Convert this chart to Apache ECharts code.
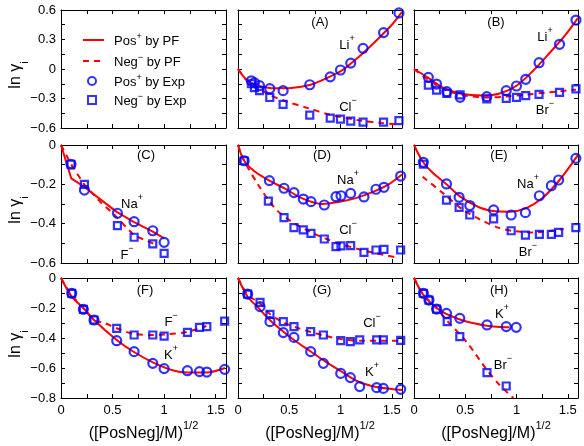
<!DOCTYPE html>
<html>
<head>
<meta charset="utf-8">
<script src="https://cdn.jsdelivr.net/npm/echarts@6/dist/echarts.min.js"></script>
<style>
html,body{margin:0;padding:0;background:#fff;}
#c{width:584px;height:446px;}
</style>
</head>
<body>
<div id="c"></div>
<script>
// ---------------- DATA ----------------
// tick labels
const xLabelValues = [0, 0.5, 1, 1.5];
const xLabelTexts = ['0', '0.5', '1', '1.5'];
const yLabelValuesRow1 = [0.6, 0.3, 0, -0.3, -0.6];
const yLabelTextsRow1 = ['0.6', '0.3', '0', '\u22120.3', '\u22120.6'];
const yLabelValuesRow2 = [0, -0.2, -0.4, -0.6];
const yLabelTextsRow2 = ['0', '\u22120.2', '\u22120.4', '\u22120.6'];
const yLabelValuesRow3 = [0, -0.2, -0.4, -0.6, -0.8];
const yLabelTextsRow3 = ['0', '\u22120.2', '\u22120.4', '\u22120.6', '\u22120.8'];

// Panel A (LiCl)
const A_posExp = [[0.13,-0.12],[0.16,-0.14],[0.21,-0.17],[0.31,-0.20],[0.44,-0.22],[0.70,-0.16],[0.90,-0.08],[1.00,-0.01],[1.10,0.06],[1.22,0.21],[1.42,0.37],[1.57,0.57]];
const A_negExp = [[0.13,-0.15],[0.16,-0.19],[0.21,-0.22],[0.31,-0.29],[0.44,-0.36],[0.70,-0.47],[0.90,-0.50],[1.00,-0.51],[1.10,-0.53],[1.22,-0.54],[1.42,-0.54],[1.57,-0.525]];
const A_posPF = [[0,0],[0.07,-0.095],[0.13,-0.14],[0.2,-0.17],[0.36,-0.197],[0.52,-0.193],[0.70,-0.163],[0.85,-0.10],[1.02,-0.01],[1.18,0.125],[1.35,0.29],[1.51,0.46],[1.6,0.58]];
const A_negPF = [[0,0],[0.07,-0.1],[0.13,-0.15],[0.3,-0.258],[0.46,-0.326],[0.69,-0.40],[0.88,-0.46],[1.17,-0.52],[1.40,-0.55],[1.58,-0.566]];

// Panel B (LiBr)
const B_posExp = [[0.14,-0.085],[0.22,-0.153],[0.32,-0.231],[0.45,-0.288],[0.71,-0.281],[0.90,-0.22],[1.00,-0.173],[1.09,-0.105],[1.22,0.064],[1.42,0.251],[1.58,0.498]];
const B_negExp = [[0.14,-0.163],[0.22,-0.214],[0.32,-0.247],[0.45,-0.264],[0.71,-0.305],[0.90,-0.298],[1.00,-0.288],[1.09,-0.271],[1.22,-0.258],[1.42,-0.237],[1.58,-0.203]];
const B_posPF = [[0,0],[0.14,-0.09],[0.285,-0.19],[0.45,-0.25],[0.67,-0.27],[0.835,-0.25],[1.0,-0.17],[1.16,-0.02],[1.32,0.16],[1.48,0.35],[1.6,0.52]];
const B_negPF = [[0,0],[0.14,-0.11],[0.285,-0.2],[0.45,-0.26],[0.71,-0.29],[0.90,-0.28],[1.1,-0.26],[1.29,-0.24],[1.58,-0.21]];

// Panel C (NaF)
const C_posExp = [[0.097,-0.098],[0.227,-0.229],[0.547,-0.347],[0.709,-0.39],[0.89,-0.436],[1.0,-0.495]];
const C_negExp = [[0.097,-0.098],[0.227,-0.2],[0.547,-0.41],[0.709,-0.469],[0.89,-0.503],[1.0,-0.551]];
const C_posPF = [[0,0],[0.1,-0.17],[0.23,-0.215],[0.54,-0.34],[0.70,-0.39],[0.89,-0.44],[1.0,-0.475]];
const C_negPF = [[0,0],[0.1,-0.1],[0.23,-0.205],[0.4,-0.3],[0.5,-0.345],[0.58,-0.39],[0.71,-0.46],[0.89,-0.5],[0.93,-0.51]];

// Panel D (NaCl)
const D_posExp = [[0.06,-0.08],[0.306,-0.181],[0.449,-0.22],[0.546,-0.242],[0.637,-0.275],[0.712,-0.288],[0.842,-0.305],[0.956,-0.263],[1.005,-0.258],[1.099,-0.246],[1.229,-0.264],[1.346,-0.225],[1.424,-0.215],[1.587,-0.158]];
const D_negExp = [[0.06,-0.08],[0.296,-0.285],[0.449,-0.369],[0.546,-0.42],[0.637,-0.432],[0.712,-0.449],[0.842,-0.478],[0.956,-0.517],[1.005,-0.513],[1.099,-0.512],[1.229,-0.546],[1.346,-0.534],[1.424,-0.531],[1.587,-0.534]];
const D_posPF = [[0,0],[0.06,-0.08],[0.166,-0.136],[0.306,-0.181],[0.459,-0.222],[0.62,-0.27],[0.82,-0.30],[0.98,-0.29],[1.15,-0.27],[1.31,-0.24],[1.47,-0.2],[1.6,-0.15]];
const D_negPF = [[0,0],[0.06,-0.08],[0.198,-0.203],[0.361,-0.322],[0.524,-0.39],[0.687,-0.437],[0.85,-0.475],[1.01,-0.505],[1.18,-0.53],[1.34,-0.55],[1.56,-0.573]];

// Panel E (NaBr)
const E_posExp = [[0.091,-0.088],[0.317,-0.198],[0.44,-0.266],[0.544,-0.308],[0.777,-0.33],[0.948,-0.356],[1.087,-0.344],[1.223,-0.258],[1.34,-0.207],[1.411,-0.178],[1.579,-0.068]];
const E_negExp = [[0.091,-0.098],[0.317,-0.28],[0.44,-0.317],[0.544,-0.356],[0.777,-0.376],[0.948,-0.436],[1.087,-0.458],[1.223,-0.454],[1.34,-0.454],[1.411,-0.444],[1.579,-0.42]];
const E_posPF = [[0,0],[0.09,-0.088],[0.188,-0.144],[0.317,-0.2],[0.446,-0.26],[0.608,-0.31],[0.77,-0.336],[0.93,-0.339],[1.09,-0.322],[1.25,-0.271],[1.42,-0.178],[1.6,-0.05]];
const E_negPF = [[0.084,-0.161],[0.285,-0.246],[0.479,-0.33],[0.641,-0.378],[0.819,-0.42],[0.964,-0.437],[1.16,-0.445],[1.32,-0.437],[1.46,-0.427]];

// Panel F (KF)
const F_posExp = [[0.104,-0.102],[0.217,-0.209],[0.32,-0.28],[0.54,-0.418],[0.709,-0.491],[0.89,-0.569],[1.0,-0.604],[1.226,-0.618],[1.343,-0.624],[1.414,-0.627],[1.587,-0.609]];
const F_negExp = [[0.104,-0.102],[0.217,-0.209],[0.32,-0.28],[0.54,-0.336],[0.709,-0.38],[0.89,-0.38],[1.0,-0.387],[1.226,-0.362],[1.343,-0.329],[1.414,-0.324],[1.587,-0.287]];
const F_posPF = [[0,0],[0.104,-0.124],[0.217,-0.2],[0.32,-0.28],[0.54,-0.413],[0.70,-0.49],[0.89,-0.562],[1.09,-0.617],[1.22,-0.63],[1.41,-0.63],[1.59,-0.6]];
const F_negPF = [[0,0],[0.104,-0.115],[0.217,-0.2],[0.32,-0.28],[0.42,-0.30],[0.54,-0.335],[0.70,-0.372],[0.89,-0.38],[1.0,-0.377],[1.22,-0.36],[1.41,-0.32]];

// Panel G (KCl)
const G_posExp = [[0.094,-0.107],[0.215,-0.191],[0.312,-0.291],[0.442,-0.364],[0.546,-0.396],[0.709,-0.491],[0.833,-0.569],[1.002,-0.636],[1.096,-0.664],[1.187,-0.724],[1.353,-0.731],[1.418,-0.736],[1.587,-0.742]];
const G_negExp = [[0.094,-0.107],[0.215,-0.162],[0.312,-0.242],[0.442,-0.291],[0.546,-0.324],[0.709,-0.358],[0.833,-0.38],[1.002,-0.418],[1.096,-0.424],[1.187,-0.413],[1.353,-0.413],[1.418,-0.413],[1.587,-0.416]];
const G_posPF = [[0,0],[0.094,-0.125],[0.2,-0.2],[0.31,-0.28],[0.44,-0.357],[0.56,-0.42],[0.71,-0.49],[0.85,-0.556],[1.0,-0.62],[1.17,-0.69],[1.35,-0.727],[1.5,-0.74],[1.6,-0.747]];
const G_negPF = [[0,0],[0.094,-0.11],[0.215,-0.17],[0.31,-0.24],[0.44,-0.295],[0.59,-0.335],[0.72,-0.362],[0.85,-0.385],[1.0,-0.407],[1.2,-0.418],[1.4,-0.418],[1.6,-0.418]];

// Panel H (KBr)
const H_posExp = [[0.091,-0.102],[0.146,-0.147],[0.22,-0.207],[0.317,-0.236],[0.447,-0.269],[0.712,-0.313],[0.9,-0.324],[0.997,-0.329]];
const H_negExp = [[0.091,-0.102],[0.146,-0.147],[0.22,-0.207],[0.324,-0.291],[0.447,-0.391],[0.712,-0.631],[0.9,-0.72]];
const H_posPF = [[0,0],[0.091,-0.113],[0.22,-0.2],[0.35,-0.25],[0.51,-0.29],[0.71,-0.318],[0.84,-0.327],[0.93,-0.328]];
const H_negPF = [[0,0],[0.091,-0.11],[0.22,-0.2],[0.317,-0.28],[0.51,-0.424],[0.71,-0.611],[0.835,-0.713],[0.97,-0.80]];

// ---------------- LAYOUT ----------------
const FONT = '"Liberation Sans", Arial, Helvetica, sans-serif';
const RED = '#ff0000', BLUE = '#0000ff', CLEAR = 'rgba(255,255,255,0)';
const colLeft = [61, 238, 414], colWidth = [165, 164, 164];
const rowTop = [10, 145, 278], rowHeight = [118, 118, 120];
const yRange = [[-0.6, 0.6, 0.15], [-0.6, 0, 0.1], [-0.8, 0, 0.1]];
const yLabVals = [yLabelValuesRow1, yLabelValuesRow2, yLabelValuesRow3];
const yLabTxts = [yLabelTextsRow1, yLabelTextsRow2, yLabelTextsRow3];

// panels: index = row*3+col ; index 0 = legend panel
const panels = [
  null,
  {letter:'(A)', pos:A_posExp, neg:A_negExp, posPF:A_posPF, negPF:A_negPF, lp:[[320,22],[347,43,'+','Li'],[348,105,'-','Cl']]},
  {letter:'(B)', pos:B_posExp, neg:B_negExp, posPF:B_posPF, negPF:B_negPF, lp:[[496,22],[545,35,'+','Li'],[545,108,'-','Br']]},
  {letter:'(C)', pos:C_posExp, neg:C_negExp, posPF:C_posPF, negPF:C_negPF, lp:[[146,155],[132,202,'+','Na'],[127,253,'-','F']], linear:true},
  {letter:'(D)', pos:D_posExp, neg:D_negExp, posPF:D_posPF, negPF:D_negPF, lp:[[322,155],[348,178,'+','Na'],[348,228,'-','Cl']]},
  {letter:'(E)', pos:E_posExp, neg:E_negExp, posPF:E_posPF, negPF:E_negPF, lp:[[499,155],[528,182,'+','Na'],[528,250,'-','Br']]},
  {letter:'(F)', pos:F_posExp, neg:F_negExp, posPF:F_posPF, negPF:F_negPF, lp:[[145,290],[171,320,'-','F'],[171,353,'+','K']]},
  {letter:'(G)', pos:G_posExp, neg:G_negExp, posPF:G_posPF, negPF:G_negPF, lp:[[322,290],[372,321,'-','Cl'],[372,370,'+','K']]},
  {letter:'(H)', pos:H_posExp, neg:H_negExp, posPF:H_posPF, negPF:H_negPF, lp:[[499,290],[502,312,'+','K'],[503,363,'-','Br']]}
];

function labelFor(v, vals, txts) {
  for (let i = 0; i < vals.length; i++) if (Math.abs(v - vals[i]) < 1e-6) return txts[i];
  return '';
}

const grid = [], xAxis = [], yAxis = [], series = [], graphic = [];
const axisLineStyle = {show:true, onZero:false, lineStyle:{color:'#000', width:1}};
const tickStyle = {show:true, inside:true, length:4, lineStyle:{color:'#000', width:1}};

for (let r = 0; r < 3; r++) {
  // y-axis title for the row (rotated text)
  graphic.push({type:'text', x:19, y:rowTop[r] + rowHeight[r] / 2 + 6, rotation:Math.PI / 2, z:10,
    style:{text:'{a|ln \u03b3}{b|i}', align:'center', verticalAlign:'middle',
      rich:{a:{fontSize:16, fontFamily:FONT, fill:'#000', lineHeight:22, verticalAlign:'top'},
            b:{fontSize:11, fontFamily:FONT, fill:'#000', lineHeight:22, verticalAlign:'bottom'}}}});
  for (let c = 0; c < 3; c++) {
    const gi = r * 3 + c;
    grid.push({left: colLeft[c], top: rowTop[r], width: colWidth[c], height: rowHeight[r], containLabel:false});
    const showX = (r === 2), showY = (c === 0);
    xAxis.push({
      type:'value', gridIndex: gi, position:'bottom', min:0, max:1.6, interval:0.25,
      axisLine: axisLineStyle, axisTick: tickStyle, splitLine:{show:false},
      axisLabel:{show:showX, margin:6, color:'#000', fontSize:13, fontFamily:FONT,
        showMaxLabel:false,
        formatter: v => labelFor(v, xLabelValues, xLabelTexts)},
      name: showX ? '{a|([PosNeg]/M)}{b|1/2}' : '', nameLocation:'middle', nameGap:22,
      nameTextStyle:{color:'#000', fontFamily:FONT, rich:{
        a:{fontSize:16, fontFamily:FONT, color:'#000', lineHeight:22, verticalAlign:'bottom'},
        b:{fontSize:11, fontFamily:FONT, color:'#000', lineHeight:22, verticalAlign:'top'}}}
    });
    xAxis.push({
      type:'value', gridIndex: gi, position:'top', min:0, max:1.6, interval:0.25,
      axisLine: axisLineStyle, axisTick: tickStyle, splitLine:{show:false}, axisLabel:{show:false}
    });
    yAxis.push({
      type:'value', gridIndex: gi, position:'left', min:yRange[r][0], max:yRange[r][1], interval:yRange[r][2],
      axisLine: axisLineStyle, axisTick: tickStyle, splitLine:{show:false},
      axisLabel:{show:showY, margin:5, color:'#000', fontSize:13, fontFamily:FONT,
        formatter: v => labelFor(v, yLabVals[r], yLabTxts[r])}
    });
    yAxis.push({
      type:'value', gridIndex: gi, position:'right', min:yRange[r][0], max:yRange[r][1], interval:yRange[r][2],
      axisLine: axisLineStyle, axisTick: tickStyle, splitLine:{show:false}, axisLabel:{show:false}
    });

    const p = panels[gi];
    if (!p) continue;
    const xi = gi * 2, yi = gi * 2;
    const sm = p.linear ? false : 0.3;
    series.push({name:'PosPF', type:'line', xAxisIndex:xi, yAxisIndex:yi, data:p.posPF, symbol:'none', smooth:sm,
      lineStyle:{color:RED, width:2}, itemStyle:{color:CLEAR, borderWidth:0}, z:2, clip:true, silent:true});
    series.push({name:'NegPF', type:'line', xAxisIndex:xi, yAxisIndex:yi, data:p.negPF, symbol:'none', smooth:sm,
      lineStyle:{color:RED, width:2, type:[6,5]}, itemStyle:{color:CLEAR, borderWidth:0}, z:2, clip:true, silent:true});
    series.push({name:'PosExp', type:'scatter', xAxisIndex:xi, yAxisIndex:yi, data:p.pos, symbol:'circle', symbolSize:9,
      itemStyle:{color:CLEAR, borderColor:BLUE, borderWidth:2.2}, z:4, silent:true});
    series.push({name:'NegExp', type:'scatter', xAxisIndex:xi, yAxisIndex:yi, data:p.neg, symbol:'rect', symbolSize:7,
      itemStyle:{color:CLEAR, borderColor:BLUE, borderWidth:2.2}, z:3, silent:true});

    // panel letter
    graphic.push({type:'text', x:p.lp[0][0], y:p.lp[0][1], z:10,
      style:{text:p.letter, font:'13px ' + FONT, fill:'#000', align:'center', verticalAlign:'middle'}});
    // ion labels
    for (let k = 1; k <= 2; k++) {
      const L = p.lp[k];
      const sup = L[2] === '+' ? '+' : '\u2212';
      graphic.push({type:'text', x:L[0], y:L[1], z:10,
        style:{text:'{a|' + L[3] + '}{s|' + sup + '}', align:'center', verticalAlign:'middle',
          rich:{a:{fontSize:13, fontFamily:FONT, fill:'#000', lineHeight:18, verticalAlign:'bottom'},
                s:{fontSize:9, fontFamily:FONT, fill:'#000', lineHeight:18, verticalAlign:'top'}}}});
    }
  }
}

const legendNames = {PosPF:'{a|Pos}{s|+}{a| by PF}', NegPF:'{a|Neg}{s|\u2212}{a| by PF}',
                     PosExp:'{a|Pos}{s|+}{a| by Exp}', NegExp:'{a|Neg}{s|\u2212}{a| by Exp}'};
const legendRich = {
  a:{fontSize:13, fontFamily:FONT, color:'#000', lineHeight:16, verticalAlign:'bottom'},
  s:{fontSize:9, fontFamily:FONT, color:'#000', lineHeight:16, verticalAlign:'top'}};

const option = {
  backgroundColor:'#fff',
  animation:false,
  grid, xAxis, yAxis, series, graphic,
  legend:[{
    left:82, top:32, padding:0, orient:'vertical', itemGap:5, itemWidth:21, itemHeight:10,
    data:['PosPF','NegPF'],
    formatter: n => legendNames[n],
    textStyle:{color:'#000', fontFamily:FONT, padding:[0,0,0,5], rich:legendRich}
  },{
    left:87, top:73, padding:0, orient:'vertical', itemGap:3, itemWidth:8, itemHeight:8,
    data:['PosExp','NegExp'],
    formatter: n => legendNames[n],
    textStyle:{color:'#000', fontFamily:FONT, padding:[0,0,0,13], rich:legendRich}
  }]
};

const chart = echarts.init(document.getElementById('c'), null, {renderer:'canvas'});
chart.setOption(option);
</script>
</body>
</html>
